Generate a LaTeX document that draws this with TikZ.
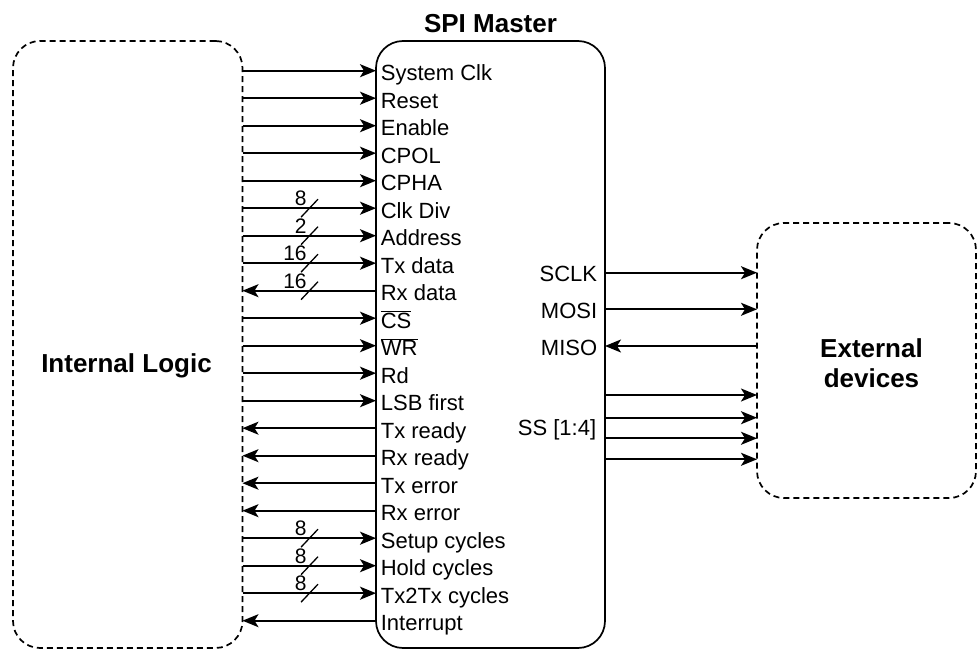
\documentclass[tikz,border=0pt]{standalone}
\usepackage{fontspec}
\setmainfont{Liberation Sans}
\usetikzlibrary{arrows.meta}
\begin{document}
\begin{tikzpicture}[x=1pt,y=-1pt, line width=1.7pt,
  box/.style={draw, rounded corners=27pt, outer sep=0pt, inner sep=0pt},
  dbox/.style={box, dash pattern=on 6pt off 4pt},
  lbl/.style={font=\fontsize{22}{26}\selectfont, inner sep=0pt},
  buslbl/.style={font=\fontsize{21}{24}\selectfont, inner sep=0pt},
  ttl/.style={font=\bfseries\fontsize{26}{30}\selectfont, inner sep=0pt, align=center},
  arrin/.style={-{Stealth[length=16pt,width=13pt,inset=4pt]}},
  arrout/.style={{Stealth[length=16pt,width=13pt,inset=4pt]}-},
]
\useasboundingbox (0,0) rectangle (978,650);

% boxes
\node[dbox, minimum width=229.5pt, minimum height=607pt] (il) at (127.75,344.5) {};
\node[box, minimum width=229pt, minimum height=607pt] (spi) at (490.5,344.5) {};
\node[dbox, minimum width=219pt, minimum height=275pt] (ext) at (866.5,360.5) {};

% titles
\node[ttl, anchor=base] (title) at (490.5,33) {SPI Master};
\node[ttl, anchor=base] (iltxt) at (126.5,372) {Internal Logic};
\node[ttl] (exttxt) at (871.5,363.3) {External\\devices};

% left side signals
\foreach \i/\txt/\dr in {
  0/System Clk/arrin, 1/Reset/arrin, 2/Enable/arrin, 3/CPOL/arrin,
  4/CPHA/arrin, 5/Clk Div/arrin, 6/Address/arrin, 7/Tx data/arrin,
  8/Rx data/arrout, 9/$\overline{\mbox{CS}}$/arrin, 10/$\overline{\mbox{WR}}$/arrin,
  11/Rd/arrin, 12/LSB first/arrin, 13/Tx ready/arrout, 14/Rx ready/arrout,
  15/Tx error/arrout, 16/Rx error/arrout, 17/Setup cycles/arrin,
  18/Hold cycles/arrin, 19/Tx2Tx cycles/arrin, 20/Interrupt/arrout}{
  \pgfmathsetmacro\yy{70.7+27.5*\i}
  \coordinate (r\i) at (0,\yy);
  \node[lbl, anchor=base west] (l\i) at ([shift={(380,10)}]r\i) {\txt};
  \draw[\dr] (il.east |- r\i) -- (spi.west |- r\i);
}

% bus markers
\foreach \i/\n in {5/8, 6/2, 7/16, 8/16, 17/8, 18/8, 19/8}{
  \draw[line width=1.3pt] ([shift={(301,9)}]r\i) -- ([shift={(318,-9)}]r\i);
  \node[buslbl, anchor=base east] (b\i) at ([shift={(307.5,-2.5)}]r\i) {\n};
}

% right side signals
\foreach \i/\yy in {0/272.7, 1/309.3, 2/346, 3/395, 4/417.7, 5/438.3, 6/459.3}{
  \coordinate (s\i) at (0,\yy);
}
\draw[arrin]  (spi.east |- s0) -- (ext.west |- s0);
\draw[arrin]  (spi.east |- s1) -- (ext.west |- s1);
\draw[arrout] (spi.east |- s2) -- (ext.west |- s2);
\draw[arrin]  (spi.east |- s3) -- (ext.west |- s3);
\draw[arrin]  (spi.east |- s4) -- (ext.west |- s4);
\draw[arrin]  (spi.east |- s5) -- (ext.west |- s5);
\draw[arrin]  (spi.east |- s6) -- (ext.west |- s6);

\node[lbl, anchor=base east] (sclk) at ([shift={(598,8.3)}]s0) {SCLK};
\node[lbl, anchor=base east] (mosi) at ([shift={(598,8.7)}]s1) {MOSI};
\node[lbl, anchor=base east] (miso) at ([shift={(598,9)}]s2) {MISO};
\node[lbl, anchor=base east] (ss) at (597,435) {SS [1:4]};
\end{tikzpicture}
\end{document}
